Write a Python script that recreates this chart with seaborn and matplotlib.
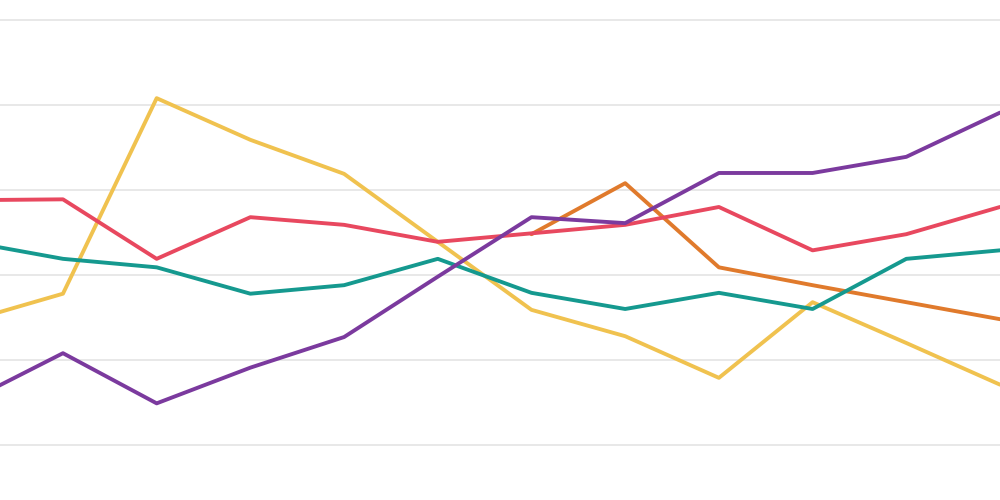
import pandas as pd
import matplotlib.pyplot as plt
import seaborn as sns

# valores (grade em 0..5)
periodos = list(range(12))
roxo = [0.52, 1.08, 0.49, 0.91, 1.27, 1.98, 2.68, 2.61, 3.20, 3.20, 3.39, 3.91]
vermelho = [2.88, 2.89, 2.19, 2.68, 2.59, 2.39, 2.49, 2.59, 2.80, 2.29, 2.48, 2.80]
verde = [2.39, 2.19, 2.09, 1.78, 1.88, 2.19, 1.79, 1.60, 1.79, 1.60, 2.19, 2.29]
amarelo = [1.46, 1.78, 4.08, 3.59, 3.19, 2.39, 1.59, 1.28, 0.79, 1.68, 1.20, 0.71]
laranja_periodos = [6, 7, 8, 9, 10, 11]
laranja = [2.48, 3.08, 2.09, 1.88, 1.68, 1.48]

series = {'roxo': (periodos, roxo), 'vermelho': (periodos, vermelho),
          'verde': (periodos, verde), 'amarelo': (periodos, amarelo),
          'laranja': (laranja_periodos, laranja)}
cores = {'roxo': '#7b3a9e', 'vermelho': '#e8485f', 'verde': '#15998f',
         'amarelo': '#f0c24f', 'laranja': '#e07a2c'}

linhas = []
for nome, (xs, ys) in series.items():
    for x, y in zip(xs, ys):
        linhas.append({'periodo': x, 'valor': y, 'serie': nome})
df = pd.DataFrame(linhas)

sns.set_style('whitegrid')
fig = plt.figure(figsize=(10, 5), dpi=100)
ax = fig.add_axes([0, 0, 1, 1])
sns.lineplot(data=df, x='periodo', y='valor', hue='serie', palette=cores,
             hue_order=['amarelo', 'laranja', 'verde', 'vermelho', 'roxo'],
             linewidth=2.8, legend=False, ax=ax)

ax.set_xlim(0.328, 11)
ax.set_ylim(-0.647, 5.235)
ax.set_yticks([0, 1, 2, 3, 4, 5])
ax.grid(axis='x', visible=False)
ax.grid(axis='y', color='#e6e6e6', linewidth=1.3)
ax.tick_params(left=False, bottom=False, labelleft=False, labelbottom=False)
ax.set_xlabel('')
ax.set_ylabel('')
for s in ax.spines.values():
    s.set_visible(False)

plt.savefig('out.png', dpi=100)
